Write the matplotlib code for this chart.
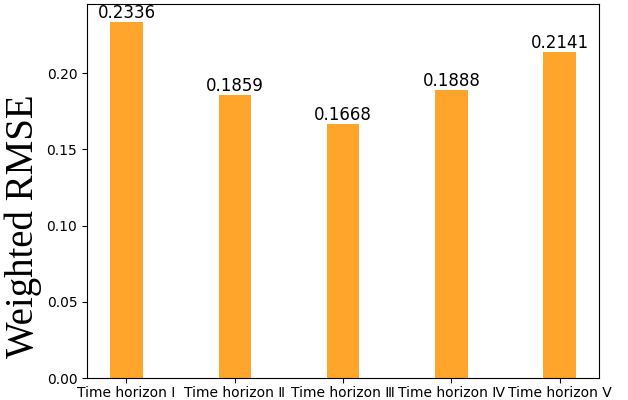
import matplotlib
matplotlib.use("Agg")
import matplotlib.pyplot as plt
import numpy as np

labels = ["Time horizon Ⅰ", "Time horizon Ⅱ", "Time horizon Ⅲ",
          "Time horizon Ⅳ", "Time horizon Ⅴ"]
rmse = [0.2336, 0.1859, 0.1668, 0.1888, 0.2141]

fig = plt.figure(figsize=(6.28, 4.0), dpi=100)
ax = fig.add_axes([0.1385, 0.055, 0.8155, 0.935])

x = np.arange(len(labels))
bars = ax.bar(x, rmse, width=0.3, color="#FFA52C")
for b, v in zip(bars, rmse):
    ax.text(b.get_x() + b.get_width() / 2, v, "%.4f" % v,
            ha="center", va="bottom", fontsize=12)

ax.set_xticks(x)
ax.set_xticklabels(labels, fontsize=10)
ax.tick_params(axis="x", pad=2)
ax.set_ylim(0, 0.2336 * 1.05)
ax.set_yticks([0.0, 0.05, 0.10, 0.15, 0.20])
ax.tick_params(axis="y", labelsize=10)
ax.set_ylabel("Weighted RMSE", family="Liberation Serif", fontsize=28)
ax.yaxis.set_label_coords(-0.088, 0.406)

fig.savefig("out.png", dpi=100)
